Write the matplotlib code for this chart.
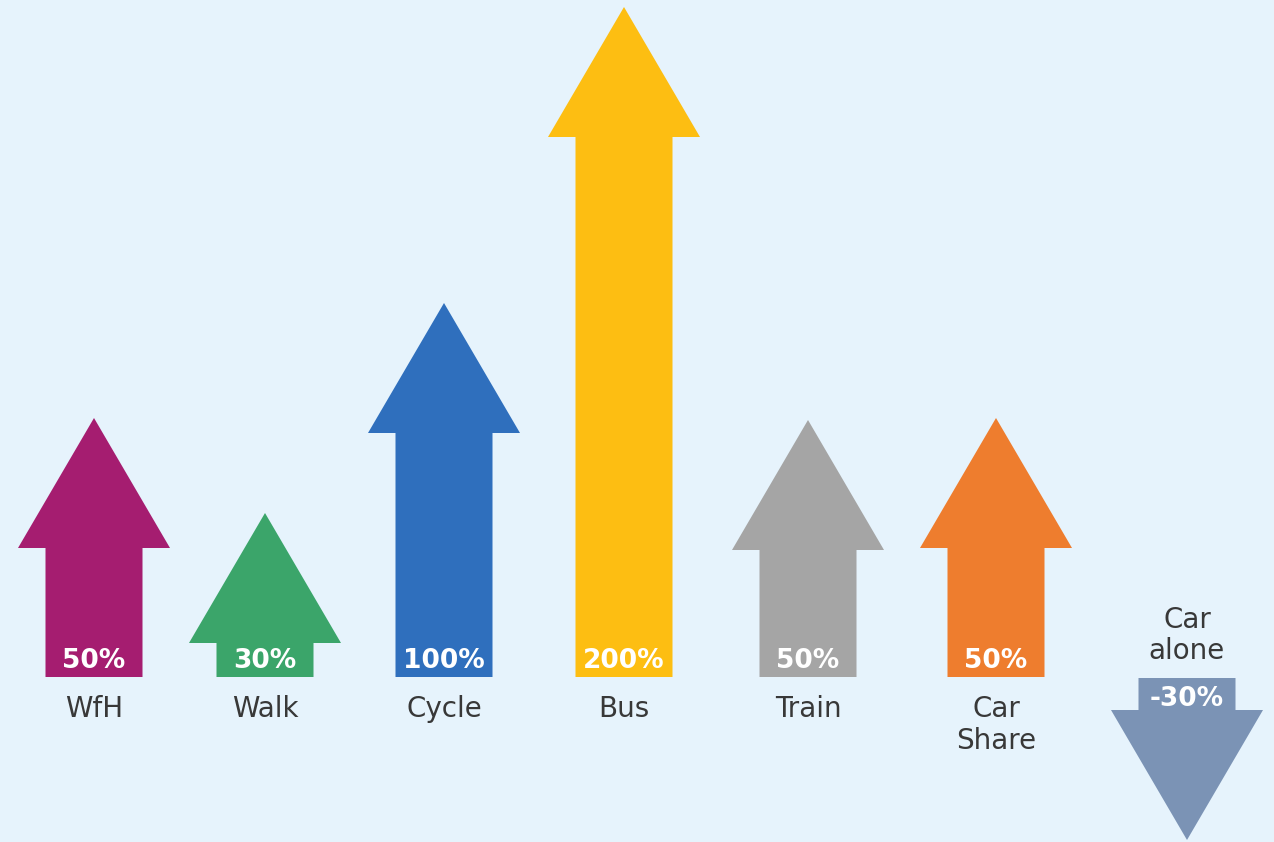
import matplotlib
matplotlib.use('Agg')
import matplotlib.pyplot as plt
from matplotlib.patches import Polygon

# data
modes = ['WfH', 'Walk', 'Cycle', 'Bus', 'Train', 'Car\nShare', 'Car\nalone']
change = [50, 30, 100, 200, 50, 50, -30]
# drawn arrow length in the infographic (not to scale with the %)
arrow_len = [259, 164, 374, 670, 257, 259, 162]

colors = ['#a51d70', '#3ba56a', '#2f6fbd', '#fdbe12', '#a5a5a5', '#ee7d2e', '#7b93b5']
centers = [94, 265, 444, 624, 808, 996, 1187]

bg = '#e6f3fc'
base_y = 677
head_w = 152
shaft_w = 97
head_h = 130


def arrow_points(cx, length, up):
    s = -1 if up else 1
    y0 = base_y if up else base_y + 1
    tip = y0 + s * length
    neck = tip - s * head_h
    return [(cx - shaft_w / 2, y0), (cx - shaft_w / 2, neck), (cx - head_w / 2, neck),
            (cx, tip), (cx + head_w / 2, neck), (cx + shaft_w / 2, neck),
            (cx + shaft_w / 2, y0)]


fig = plt.figure(figsize=(12.74, 8.42), dpi=100)
fig.patch.set_facecolor(bg)
ax = fig.add_axes([0, 0, 1, 1])
ax.set_facecolor(bg)
ax.set_xlim(0, 1274)
ax.set_ylim(842, 0)
ax.axis('off')

for name, val, L, c, cx in zip(modes, change, arrow_len, colors, centers):
    up = val >= 0
    ax.add_patch(Polygon(arrow_points(cx, L, up), closed=True, facecolor=c, edgecolor='none'))
    if up:
        ax.text(cx, 661, f'{val}%', ha='center', va='center', color='white',
                fontsize=19, fontweight='bold', family='DejaVu Sans')
        ax.text(cx, 695, name, ha='center', va='top', color='#383838',
                fontsize=20, family='DejaVu Sans', linespacing=1.2)
    else:
        ax.text(cx, 699, f'{val}%', ha='center', va='center', color='white',
                fontsize=19, fontweight='bold', family='DejaVu Sans')
        ax.text(cx, 665, name, ha='center', va='bottom', color='#383838',
                fontsize=20, family='DejaVu Sans', linespacing=1.12)

fig.savefig('out.png', dpi=100, facecolor=bg)
